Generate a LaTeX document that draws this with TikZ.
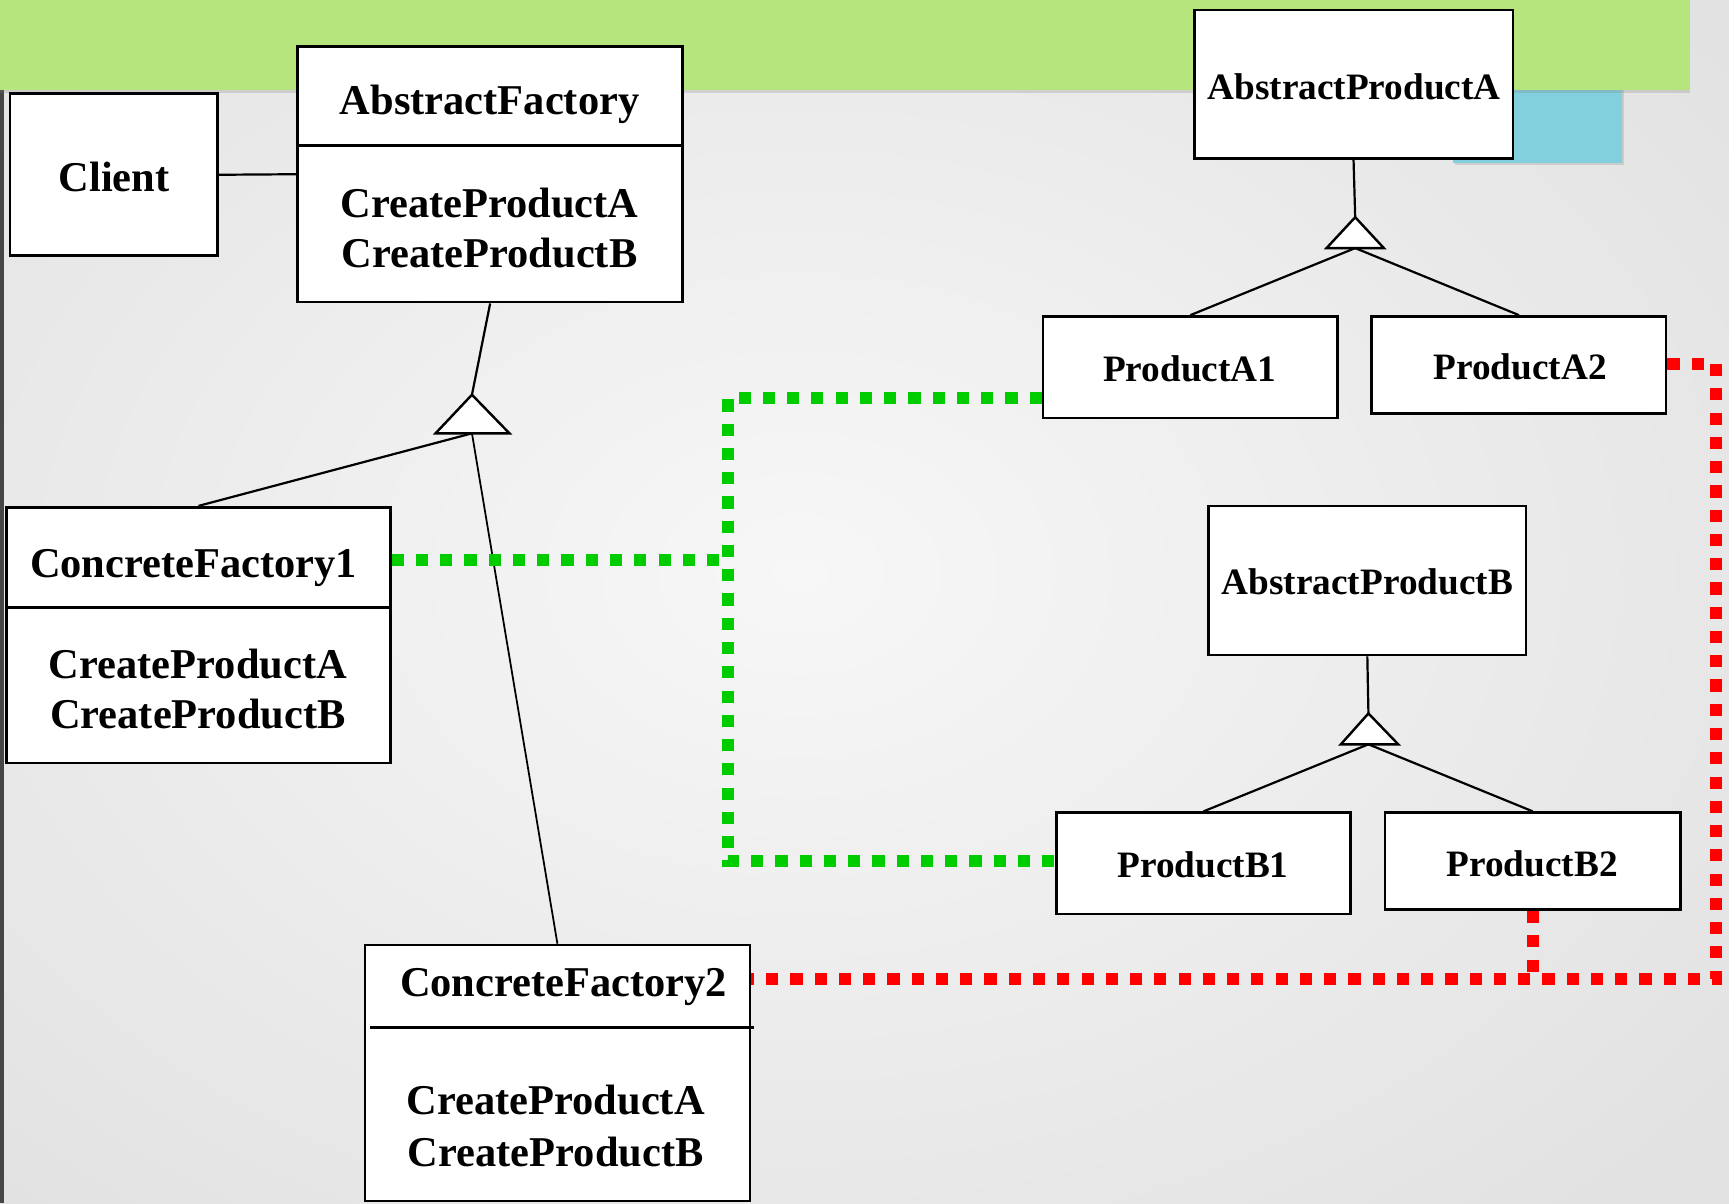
\documentclass[tikz,border=0pt]{standalone}
\usepackage{fontspec}
\setmainfont{Liberation Serif}
\usetikzlibrary{shadows}
\definecolor{bandgreen}{RGB}{182,229,125}
\definecolor{tabblue}{RGB}{130,207,221}
\definecolor{linkgreen}{RGB}{0,204,0}
\definecolor{linkred}{RGB}{255,0,0}
\definecolor{edgegray}{RGB}{70,70,70}
\begin{document}
\begin{tikzpicture}[x=1pt,y=-1pt,
  box/.style={draw=black, line width=2.4pt, fill=white, rectangle, inner sep=0pt},
  big/.style={font=\fontsize{38.5}{46}\selectfont\bfseries, anchor=base, inner sep=0pt},
  small/.style={font=\fontsize{33.8}{40}\selectfont\bfseries, anchor=base, inner sep=0pt},
  divider/.style={draw=black, line width=2.4pt},
  conn/.style={draw=black, line width=2pt},
  thinconn/.style={draw=black, line width=1.6pt},
  tri/.style={draw=black, line width=2.2pt, fill=white, line join=miter},
  greenlink/.style={draw=linkgreen, line width=11pt, dash pattern=on 11pt off 11pt},
  redlink/.style={draw=linkred, line width=11pt, dash pattern=on 11pt off 11pt},
]
\useasboundingbox (0,0) rectangle (1568,1091);

% slide background
\shade[inner color={rgb,255:red,247;green,247;blue,247}, outer color={rgb,255:red,226;green,226;blue,226}]
  (-350,-250) rectangle (1800,1291);
\fill[edgegray] (0,82) rectangle (4,1091);
\fill[tabblue, drop shadow={shadow xshift=1.5pt, shadow yshift=-2pt, opacity=0.25}] (1318,70) rectangle (1471,148);
\fill[bandgreen, drop shadow={shadow xshift=0pt, shadow yshift=-2.5pt, opacity=0.25}] (0,0) rectangle (1533,82);

% factory side
\node[box, minimum width=188pt, minimum height=147pt] (client) at (103,158.5) {};
\node[big] (clientT) at (103.5,174) {Client};

\node[box, minimum width=349pt, minimum height=232pt] (af) at (444.5,158) {};
\draw[divider] (af.west |- 0,132) -- (af.east |- 0,132);
\node[big] (afT) at (444,104) {AbstractFactory};
\node[big] (afA) at (444,197) {CreateProductA};
\node[big] (afB) at (444,243) {CreateProductB};

\node[box, minimum width=348pt, minimum height=232pt] (cf1) at (180,576) {};
\draw[divider] (cf1.west |- 0,551) -- (cf1.east |- 0,551);
\node[big] (cf1T) at (175.5,524) {ConcreteFactory1};
\node[big] (cf1A) at (179.5,615) {CreateProductA};
\node[big] (cf1B) at (179.5,661) {CreateProductB};

\node[box, minimum width=349pt, minimum height=232pt] (cf2) at (505.5,973) {};
\draw[divider] ([xshift=6pt]cf2.west |- 0,932) -- ([xshift=3pt]cf2.east |- 0,932);
\node[big] (cf2T) at (511,904) {ConcreteFactory2};
\node[big] (cf2A) at (504,1011) {CreateProductA};
\node[big] (cf2B) at (504,1058) {CreateProductB};

% product side
\node[box, minimum width=289pt, minimum height=135pt] (apa) at (1227.5,76.5) {};
\node[small] (apaT) at (1228,90.5) {AbstractProductA};
\node[box, minimum width=267pt, minimum height=92pt] (pa1) at (1079.5,333) {};
\node[small] (pa1T) at (1079,346) {ProductA1};
\node[box, minimum width=267pt, minimum height=88pt] (pa2) at (1377.5,331) {};
\node[small] (pa2T) at (1378.5,344.5) {ProductA2};

\node[box, minimum width=288pt, minimum height=135pt] (apb) at (1240,526.5) {};
\node[small] (apbT) at (1240,539.5) {AbstractProductB};
\node[box, minimum width=267pt, minimum height=92pt] (pb1) at (1091.5,783) {};
\node[small] (pb1T) at (1091,796) {ProductB1};
\node[box, minimum width=268pt, minimum height=88pt] (pb2) at (1390,781) {};
\node[small] (pb2T) at (1389.5,794.5) {ProductB2};

% generalisation apexes and base centres
\coordinate (gf) at (428,358);   \coordinate (gfb) at (428,393);
\coordinate (ga) at (1229,197);  \coordinate (gab) at (1229,225);
\coordinate (gb) at (1241,647);  \coordinate (gbb) at (1241,675);

% association and inheritance lines
\draw[conn] (client.east) -- (af.west);
\draw[conn] (af.south) -- (gf);
\draw[conn] (gfb) -- (cf1.north);
\draw[thinconn] (gfb) -- (cf2.north);
\draw[tri] (gf) -- (395,393) -- (462,393) -- cycle;

\draw[conn] (apa.south) -- (ga);
\draw[conn] (gab) -- (pa1.north);
\draw[conn] (gab) -- (pa2.north);
\draw[tri] (ga) -- (1203,225) -- (1255,225) -- cycle;

\draw[conn] (apb.south) -- (gb);
\draw[conn] (gbb) -- (pb1.north);
\draw[conn] (gbb) -- (pb2.north);
\draw[tri] (gb) -- (1216,675) -- (1268,675) -- cycle;

% family 1 (green) and family 2 (red) dependencies
\coordinate (gTop) at (660,361);
\coordinate (gMid) at (660,508);
\coordinate (gBot) at (660,781);
\draw[greenlink] (pa1.west |- gTop) -- (gTop) -- (gBot) -- (pb1.west |- gBot);
\draw[greenlink] (cf1.east |- gMid) -- (gMid);

\coordinate (rTop) at (1556,330);
\coordinate (rBot) at (1556,888);
\draw[redlink] (pa2.east |- rTop) -- (rTop) -- (rBot) -- (cf2.east |- rBot);
\draw[redlink] (pb2.south) -- (pb2.south |- rBot);
\end{tikzpicture}
\end{document}
